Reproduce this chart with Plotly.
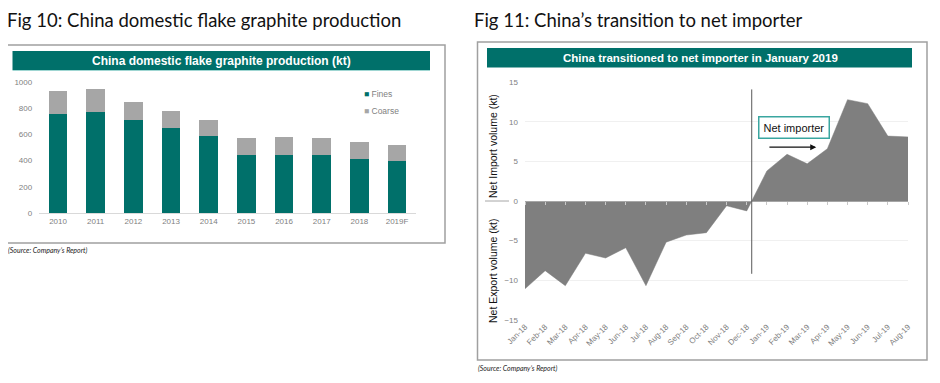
import plotly.graph_objects as go

# ---------------- data ----------------
years = ["2010", "2011", "2012", "2013", "2014", "2015", "2016", "2017", "2018", "2019F"]
fines = [758, 774, 707, 651, 590, 445, 445, 443, 415, 394]
coarse = [173, 173, 143, 128, 117, 130, 138, 132, 124, 128]

months = ["Jan-18", "Feb-18", "Mar-18", "Apr-18", "May-18", "Jun-18", "Jul-18", "Aug-18",
          "Sep-18", "Oct-18", "Nov-18", "Dec-18", "Jan-19", "Feb-19", "Mar-19", "Apr-19",
          "May-19", "Jun-19", "Jul-19", "Aug-19"]
net_volume = [-11.1, -8.8, -10.7, -6.6, -7.2, -5.9, -10.7, -5.2, -4.3, -4.0, -0.6, -1.25,
              3.8, 5.9, 4.7, 6.6, 12.8, 12.3, 8.2, 8.1]
y_ticks = [-15, -10, -5, 0, 5, 10, 15]

TEAL = "#00706a"
COARSE_GRAY = "#a6a6a6"
AREA_GRAY = "#7f7f7f"

# page body has a default 8px margin; size the figure to fill the rest of the window
OFF = 8
W, H = 940 - OFF, 383 - OFF

def px(x):
    return (x - OFF) / W

def py(y):
    return (H - (y - OFF)) / H

fig = go.Figure()

# ---------------- left chart ----------------
fig.add_trace(go.Bar(x=years, y=fines, name="Fines", marker_color=TEAL, width=0.5,
                     xaxis="x", yaxis="y", showlegend=False))
fig.add_trace(go.Bar(x=years, y=coarse, name="Coarse", marker_color=COARSE_GRAY, width=0.5,
                     xaxis="x", yaxis="y", showlegend=False))

# ---------------- right chart ----------------
xi = list(range(len(months)))
fig.add_trace(go.Scatter(x=xi, y=net_volume, mode="lines", fill="tozeroy",
                         fillcolor=AREA_GRAY, line=dict(color=AREA_GRAY, width=0.5),
                         xaxis="x2", yaxis="y2", showlegend=False, hoverinfo="x+y"))
# invisible trace so the zero-line axis is drawn
fig.add_trace(go.Scatter(x=[None], y=[None], xaxis="x3", yaxis="y2", showlegend=False,
                         hoverinfo="skip"))

# crossing point from Dec-18 to Jan-19
i = 11
cross_x = i + (-net_volume[i]) / (net_volume[i + 1] - net_volume[i])

tick_font = dict(family="Liberation Sans, Arial", size=8, color="#7f7f7f")

fig.update_layout(
    template="none",
    width=W, height=H,
    margin=dict(l=0, r=0, t=0, b=0, pad=0),
    paper_bgcolor="white", plot_bgcolor="white",
    showlegend=False,
    barmode="stack", bargap=0.5,
    xaxis=dict(domain=[px(39.2), px(415.9)], anchor="y", type="category", automargin=False,
               showline=True, linecolor="#d9d9d9", linewidth=1, ticks="",
               tickfont=tick_font, showgrid=False, zeroline=False, fixedrange=True),
    yaxis=dict(domain=[py(213), py(82)], anchor="x", range=[0, 1000], automargin=False,
               tickvals=[0, 200, 400, 600, 800, 1000], showgrid=False, zeroline=False,
               showline=False, tickfont=tick_font, ticks="", ticklabelstandoff=6),
    xaxis2=dict(domain=[px(525), px(908)], anchor="y2", range=[0, 19], automargin=False,
                tickvals=xi, ticktext=months, tickangle=-45, ticks="",
                showline=False, showgrid=False, zeroline=False, tickfont=tick_font),
    xaxis3=dict(domain=[px(523), px(908)], anchor="free", position=py(201), automargin=False,
                overlaying="x2", range=[0, 19], tickvals=xi, showticklabels=False,
                showline=True, linecolor="#a6a6a6", linewidth=1,
                ticks="outside", ticklen=3, tickcolor="#c8c8c8", showgrid=False,
                zeroline=False),
    yaxis2=dict(domain=[py(319.7), py(82.3)], anchor="x2", range=[-15, 15], automargin=False,
                tickvals=y_ticks, showgrid=True, gridcolor="#f0f0f0", gridwidth=1,
                showline=False, zeroline=False, tickfont=tick_font, ticks="",
                ticklabelstandoff=6),
)

shapes = [
    # left box
    dict(type="rect", xref="paper", yref="paper", x0=px(7), x1=px(445), y0=py(243), y1=py(45),
         line=dict(color="#a0a0a0", width=1.5), fillcolor="rgba(0,0,0,0)", layer="below"),
    dict(type="rect", xref="paper", yref="paper", x0=px(12.5), x1=px(430), y0=py(70), y1=py(51),
         line=dict(width=0), fillcolor=TEAL, layer="below"),
    dict(type="line", xref="paper", yref="paper", x0=px(12.5), x1=px(430), y0=py(70.5), y1=py(70.5),
         line=dict(color="#9fd6d2", width=1)),
    # right box
    dict(type="rect", xref="paper", yref="paper", x0=px(477.5), x1=px(927), y0=py(360), y1=py(42),
         line=dict(color="#a0a0a0", width=1.5), fillcolor="rgba(0,0,0,0)", layer="below"),
    dict(type="rect", xref="paper", yref="paper", x0=px(487), x1=px(912), y0=py(67.5), y1=py(48),
         line=dict(width=0), fillcolor=TEAL, layer="below"),
    # short dash at zero level left of the axis label
    dict(type="line", xref="paper", yref="paper", x0=px(485), x1=px(509), y0=py(201), y1=py(201),
         line=dict(color="#a6a6a6", width=1)),
    # vertical transition line
    dict(type="line", xref="x2", yref="y2", x0=cross_x, x1=cross_x, y0=-9.2, y1=14.1,
         line=dict(color="#595959", width=1)),
]
fig.update_layout(shapes=shapes)

title_font = dict(family="Lato, Open Sans, sans-serif", size=18.5, color="#111111")
annotations = [
    dict(text="Fig 10: China domestic flake graphite production", xref="paper", yref="paper",
         x=px(6), y=py(8), xanchor="left", yanchor="top", borderpad=0, showarrow=False,
         font=title_font),
    dict(text="Fig 11: China\u2019s transition to net importer", xref="paper", yref="paper",
         x=px(473), y=py(8), xanchor="left", yanchor="top", borderpad=0, showarrow=False,
         font=title_font),
    dict(text="<b>China domestic flake graphite production (kt)</b>", xref="paper", yref="paper",
         x=px(221), y=py(61), xanchor="center", yanchor="middle", showarrow=False,
         font=dict(family="Liberation Sans, Arial", size=12, color="white")),
    dict(text="<b>China transitioned to net importer in January 2019</b>", xref="paper",
         yref="paper", x=px(700), y=py(58), xanchor="center", yanchor="middle",
         showarrow=False, font=dict(family="Liberation Sans, Arial", size=11.5, color="white")),
    # legend (left chart)
    dict(text=f"<span style='color:{TEAL}'>\u25a0</span> Fines", xref="paper", yref="paper",
         x=px(362), y=py(94), xanchor="left", yanchor="middle", showarrow=False,
         font=dict(family="Liberation Sans, Arial", size=8.5, color="#7f7f7f")),
    dict(text=f"<span style='color:{COARSE_GRAY}'>\u25a0</span> Coarse", xref="paper", yref="paper",
         x=px(362), y=py(111), xanchor="left", yanchor="middle", showarrow=False,
         font=dict(family="Liberation Sans, Arial", size=8.5, color="#7f7f7f")),
    # y-axis titles (right chart)
    dict(text="Net Import volume (kt)", xref="paper", yref="paper", x=px(493), y=py(146),
         xanchor="center", yanchor="middle", textangle=-90, showarrow=False,
         font=dict(family="Liberation Sans, Arial", size=10.5, color="#111111")),
    dict(text="Net Export volume (kt)", xref="paper", yref="paper", x=px(493), y=py(271),
         xanchor="center", yanchor="middle", textangle=-90, showarrow=False,
         font=dict(family="Liberation Sans, Arial", size=10.5, color="#111111")),
    # net importer box
    dict(text="Net importer", xref="x2", yref="y2", x=13.35, y=9.3, xanchor="center",
         yanchor="middle", showarrow=False, bordercolor="#3aa6a0", borderwidth=1.5,
         borderpad=4, bgcolor="white",
         font=dict(family="Liberation Sans, Arial", size=11, color="#111111")),
    # arrow
    dict(text="", xref="x2", yref="y2", x=14.45, y=6.8, ax=12.05, ay=6.8, axref="x2", ayref="y2",
         showarrow=True, arrowhead=2, arrowsize=1, arrowwidth=1.2, arrowcolor="#111111"),
    # sources
    dict(text="<i>(Source: Company\u2019s Report)</i>", xref="paper", yref="paper",
         x=px(6), y=py(250), xanchor="left", yanchor="middle", showarrow=False,
         font=dict(family="Lato, sans-serif", size=7, color="#222222")),
    dict(text="<i>(Source: Company\u2019s Report)</i>", xref="paper", yref="paper",
         x=px(476), y=py(368), xanchor="left", yanchor="middle", showarrow=False,
         font=dict(family="Lato, sans-serif", size=7, color="#222222")),
]
fig.update_layout(annotations=annotations)

fig.write_html("out.html")
